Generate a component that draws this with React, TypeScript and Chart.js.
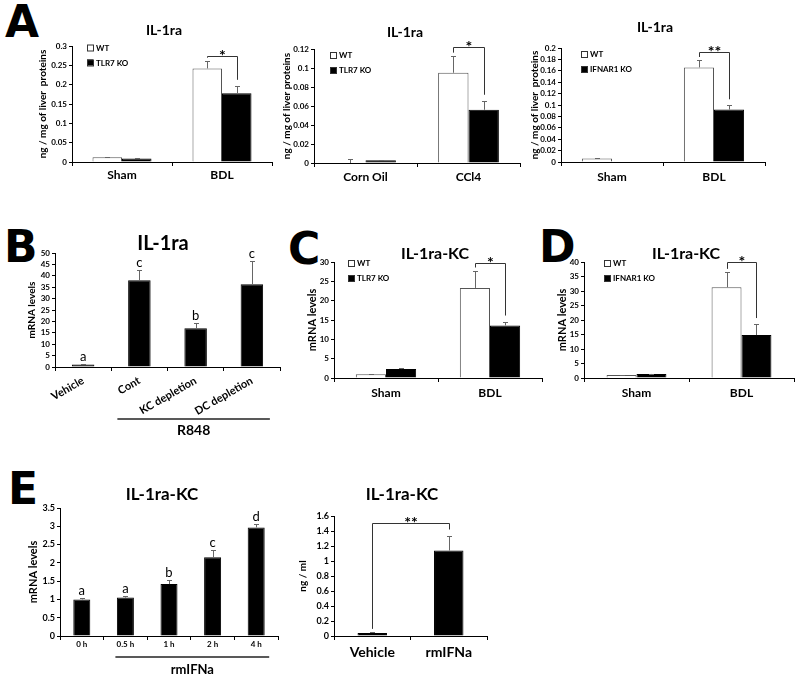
import React, { useEffect, useRef } from 'react';
import { Chart, registerables } from 'chart.js';

Chart.register(...registerables);

const FONT = 'Lato, "Open Sans", sans-serif';

// ---------------- Data ----------------
const A1_CATEGORIES = ['Sham', 'BDL'];
const A1_WT = [0.012, 0.242];
const A1_WT_ERR = [0.002, 0.02];
const A1_KO = [0.009, 0.178];
const A1_KO_ERR = [0.001, 0.019];

const A2_CATEGORIES = ['Corn Oil', 'CCl4'];
const A2_WT = [0, 0.095];
const A2_WT_ERR = [0.004, 0.018];
const A2_KO = [0.003, 0.056];
const A2_KO_ERR = [0.0005, 0.0095];

const A3_CATEGORIES = ['Sham', 'BDL'];
const A3_WT = [0.006, 0.166];
const A3_WT_ERR = [0.001, 0.013];
const A3_KO = [0, 0.092];
const A3_KO_ERR = [0, 0.0075];

const B_CATEGORIES = ['Vehicle', 'Cont', 'KC depletion', 'DC depletion'];
const B_VALUES = [1.1, 38.0, 17.0, 36.3];
const B_ERR = [0.3, 4.4, 2.2, 10.2];
const B_LETTERS = ['a', 'c', 'b', 'c'];

const C_CATEGORIES = ['Sham', 'BDL'];
const C_WT = [1.0, 23.3];
const C_WT_ERR = [0.15, 4.5];
const C_KO = [2.3, 13.6];
const C_KO_ERR = [0.2, 1.0];

const D_CATEGORIES = ['Sham', 'BDL'];
const D_WT = [1.0, 31.3];
const D_WT_ERR = [0.1, 5.3];
const D_KO = [1.4, 14.8];
const D_KO_ERR = [0.15, 3.8];

const E1_CATEGORIES = ['0 h', '0.5 h', '1 h', '2 h', '4 h'];
const E1_VALUES = [1.0, 1.05, 1.42, 2.15, 2.97];
const E1_ERR = [0.03, 0.04, 0.12, 0.2, 0.1];
const E1_LETTERS = ['a', 'a', 'b', 'c', 'd'];

const E2_CATEGORIES = ['Vehicle', 'rmIFNa'];
const E2_VALUES = [0.04, 1.14];
const E2_ERR = [0.015, 0.2];

// y-axis ranges
const A1_Y = { max: 0.3, step: 0.05 };
const A2_Y = { max: 0.12, step: 0.02 };
const A3_Y = { max: 0.2, step: 0.02 };
const B_Y = { max: 50, step: 5 };
const C_Y = { max: 30, step: 5 };
const D_Y = { max: 40, step: 5 };
const E1_Y = { max: 3.5, step: 0.5 };
const E2_Y = { max: 1.6, step: 0.2 };

// significance brackets (level in data units)
const A1_SIG = { level: 0.275, label: '*' };
const A2_SIG = { level: 0.1225, label: '*' };
const A3_SIG = { level: 0.1935, label: '**' };
const C_SIG = { level: 29.7, label: '*' };
const D_SIG = { level: 39.9, label: '*' };
const E2_SIG = { level: 1.51, label: '**' };

// ---------------- Panel specs (layout) ----------------
const WT_STYLE = { fill: '#ffffff', stroke: '#555555' };
const KO_STYLE = { fill: '#000000', stroke: '#000000' };

const PANELS: any[] = [
  {
    key: 'A1', box: [20, 8, 256, 184], area: [72, 46, 272, 162],
    categories: A1_CATEGORIES,
    series: [
      { label: 'WT', values: A1_WT, errors: A1_WT_ERR, ...WT_STYLE },
      { label: 'TLR7 KO', values: A1_KO, errors: A1_KO_ERR, ...KO_STYLE },
    ],
    y: A1_Y, tickSize: 8, yTitle: 'ng / mg of liver  proteins', yTitleX: 43, yTitleSize: 10,
    xSize: 12, xPad: 2, rotation: 0, catPct: 0.59,
    title: 'IL-1ra', titleX: 164, titleY: 30, titleSize: 14,
    legend: { x: 87, y: 47.5, gap: 15 },
    bracket: { a: [0, 1], b: [1, 1], ...A1_SIG, size: 16 },
  },
  {
    key: 'A2', box: [270, 8, 258, 184], area: [314, 49, 520, 163],
    categories: A2_CATEGORIES,
    series: [
      { label: 'WT', values: A2_WT, errors: A2_WT_ERR, ...WT_STYLE },
      { label: 'TLR7 KO', values: A2_KO, errors: A2_KO_ERR, ...KO_STYLE },
    ],
    y: A2_Y, tickSize: 8, yTitle: 'ng / mg of liver proteins', yTitleX: 287, yTitleSize: 10,
    xSize: 12, xPad: 3, rotation: 0, catPct: 0.59,
    title: 'IL-1ra', titleX: 405, titleY: 32, titleSize: 14,
    legend: { x: 330, y: 55, gap: 15 },
    bracket: { a: [0, 1], b: [1, 1], ...A2_SIG, size: 16 },
  },
  {
    key: 'A3', box: [525, 8, 275, 184], area: [561, 48, 765, 162],
    categories: A3_CATEGORIES,
    series: [
      { label: 'WT', values: A3_WT, errors: A3_WT_ERR, ...WT_STYLE },
      { label: 'IFNAR1 KO', values: A3_KO, errors: A3_KO_ERR, ...KO_STYLE },
    ],
    y: A3_Y, tickSize: 8, yTitle: 'ng / mg of liver  proteins', yTitleX: 535, yTitleSize: 10,
    xSize: 12, xPad: 4, rotation: 0, catPct: 0.59,
    title: 'IL-1ra', titleX: 655, titleY: 27, titleSize: 14,
    legend: { x: 581, y: 54, gap: 15 },
    bracket: { a: [0, 1], b: [1, 1], ...A3_SIG, size: 16 },
  },
  {
    key: 'B', box: [20, 225, 270, 215], area: [55, 253, 280, 367],
    categories: B_CATEGORIES,
    series: [{ label: 'IL-1ra', values: B_VALUES, errors: B_ERR, ...KO_STYLE }],
    y: B_Y, tickSize: 8, yTitle: 'mRNA levels', yTitleX: 32, yTitleSize: 10,
    xSize: 11, xPad: 3, rotation: 30, catPct: 0.4,
    title: 'IL-1ra', titleX: 163, titleY: 244, titleSize: 20,
    letters: B_LETTERS,
    group: { label: 'R848', from: 1, to: 3, dxFrom: -22, dxTo: 18, lineDy: 52, textDy: 63, size: 14 },
  },
  {
    key: 'C', box: [295, 225, 250, 190], area: [334, 262, 542, 378],
    categories: C_CATEGORIES,
    series: [
      { label: 'WT', values: C_WT, errors: C_WT_ERR, ...WT_STYLE },
      { label: 'TLR7 KO', values: C_KO, errors: C_KO_ERR, ...KO_STYLE },
    ],
    y: C_Y, tickSize: 8, yTitle: 'mRNA levels', yTitleX: 312, yTitleSize: 11,
    xSize: 12, xPad: 4, rotation: 0, catPct: 0.58,
    title: 'IL-1ra-KC', titleX: 435, titleY: 254, titleSize: 16,
    legend: { x: 348, y: 263, gap: 15 },
    bracket: { a: [0, 1], b: [1, 1], ...C_SIG, size: 16 },
  },
  {
    key: 'D', box: [545, 225, 255, 190], area: [584, 262, 794, 378],
    categories: D_CATEGORIES,
    series: [
      { label: 'WT', values: D_WT, errors: D_WT_ERR, ...WT_STYLE },
      { label: 'IFNAR1 KO', values: D_KO, errors: D_KO_ERR, ...KO_STYLE },
    ],
    y: D_Y, tickSize: 8, yTitle: 'mRNA levels', yTitleX: 562, yTitleSize: 11,
    xSize: 12, xPad: 4, rotation: 0, catPct: 0.57,
    title: 'IL-1ra-KC', titleX: 686, titleY: 254, titleSize: 16,
    legend: { x: 604, y: 263, gap: 15 },
    bracket: { a: [0, 1], b: [1, 1], ...D_SIG, size: 16 },
  },
  {
    key: 'E1', box: [15, 470, 270, 208], area: [60, 508, 278, 636],
    categories: E1_CATEGORIES,
    series: [{ label: 'IL-1ra-KC', values: E1_VALUES, errors: E1_ERR, ...KO_STYLE }],
    y: E1_Y, tickSize: 9, yTitle: 'mRNA levels', yTitleX: 33, yTitleSize: 11,
    xSize: 8, xPad: 0, rotation: 0, catPct: 0.39,
    title: 'IL-1ra-KC', titleX: 162, titleY: 495, titleSize: 17,
    letters: E1_LETTERS,
    group: { label: 'rmIFNa', from: 1, to: 4, dxFrom: -10, dxTo: 13, lineDy: 21, textDy: 34, size: 13 },
  },
  {
    key: 'E2', box: [285, 470, 215, 208], area: [334, 516, 487, 636],
    categories: E2_CATEGORIES,
    series: [{ label: 'IL-1ra-KC', values: E2_VALUES, errors: E2_ERR, ...KO_STYLE }],
    y: E2_Y, tickSize: 9, yTitle: 'ng / ml', yTitleX: 303, yTitleSize: 10,
    xSize: 14, xPad: 4, rotation: 0, catPct: 0.385,
    title: 'IL-1ra-KC', titleX: 402, titleY: 495, titleSize: 17,
    bracket: { a: [0, 0], b: [0, 1], ...E2_SIG, size: 16 },
  },
];

const PANEL_LETTERS = [
  { t: 'A', x: 5, y: 0 },
  { t: 'B', x: 4, y: 225 },
  { t: 'C', x: 288, y: 227 },
  { t: 'D', x: 539, y: 225 },
  { t: 'E', x: 8, y: 467 },
];

function fmt(v: any) {
  return String(Math.round(Number(v) * 10000) / 10000);
}

function Panel({ spec }: { spec: any }) {
  const ref = useRef<HTMLCanvasElement>(null);
  const [cl, ct, cw, ch] = spec.box;
  useEffect(() => {
    const canvas = ref.current!;
    const [L, T, R, B] = spec.area;
    const yTitleLH = spec.yTitleSize * 1.2;

    const errTop = (chart: any, di: number, i: number) => {
      const s = spec.series[di];
      return chart.scales.y.getPixelForValue(s.values[i] + (s.errors[i] || 0));
    };

    const decor = {
      id: 'decor' + spec.key,
      afterDatasetsDraw(chart: any) {
        const ctx = chart.ctx;
        const ys = chart.scales.y;
        ctx.save();
        ctx.strokeStyle = '#666';
        ctx.lineWidth = 1;
        spec.series.forEach((s: any, di: number) => {
          const meta = chart.getDatasetMeta(di);
          s.values.forEach((v: number, i: number) => {
            const e = s.errors[i];
            if (!e) return;
            const x = Math.round(meta.data[i].x) + 0.5;
            const y0 = ys.getPixelForValue(v);
            const y1 = Math.round(ys.getPixelForValue(v + e)) + 0.5;
            ctx.beginPath();
            ctx.moveTo(x, y0);
            ctx.lineTo(x, y1);
            ctx.moveTo(x - 2.5, y1);
            ctx.lineTo(x + 2.5, y1);
            ctx.stroke();
          });
        });
        ctx.restore();
      },
      afterDraw(chart: any) {
        const ctx = chart.ctx;
        const ys = chart.scales.y;
        const xs = chart.scales.x;
        ctx.save();
        // title
        ctx.fillStyle = '#000';
        ctx.textAlign = 'center';
        ctx.textBaseline = 'middle';
        ctx.font = `bold ${spec.titleSize}px ${FONT}`;
        ctx.fillText(spec.title, spec.titleX - cl, spec.titleY - ct);

        // legend
        if (spec.legend) {
          const lg = spec.legend;
          spec.series.forEach((s: any, di: number) => {
            const bx = lg.x - cl;
            const by = lg.y - ct + di * lg.gap;
            ctx.fillStyle = s.fill;
            ctx.fillRect(bx, by - 3, 6, 6);
            ctx.strokeStyle = '#333';
            ctx.lineWidth = 1;
            ctx.strokeRect(bx + 0.5, by - 3 + 0.5, 6, 6);
            ctx.fillStyle = '#000';
            ctx.textAlign = 'left';
            ctx.textBaseline = 'middle';
            ctx.font = `bold 8px ${FONT}`;
            ctx.fillText(s.label, bx + 9, by + 0.5);
          });
        }

        // letters above bars
        if (spec.letters) {
          const meta = chart.getDatasetMeta(0);
          ctx.fillStyle = '#000';
          ctx.textAlign = 'center';
          ctx.textBaseline = 'alphabetic';
          ctx.font = `13px ${FONT}`;
          spec.letters.forEach((t: string, i: number) => {
            ctx.fillText(t, meta.data[i].x, errTop(chart, 0, i) - 3);
          });
        }

        // significance bracket
        if (spec.bracket) {
          const b = spec.bracket;
          const xa = Math.round(chart.getDatasetMeta(b.a[0]).data[b.a[1]].x) + 0.5;
          const xb = Math.round(chart.getDatasetMeta(b.b[0]).data[b.b[1]].x) + 0.5;
          const ya = errTop(chart, b.a[0], b.a[1]) - 3;
          const yb = errTop(chart, b.b[0], b.b[1]) - 6;
          const yl = Math.round(ys.getPixelForValue(b.level)) + 0.5;
          ctx.strokeStyle = '#333';
          ctx.lineWidth = 1;
          ctx.beginPath();
          ctx.moveTo(xa, ya);
          ctx.lineTo(xa, yl);
          ctx.lineTo(xb, yl);
          ctx.lineTo(xb, yb);
          ctx.stroke();
          ctx.fillStyle = '#000';
          ctx.textAlign = 'center';
          ctx.textBaseline = 'alphabetic';
          ctx.font = `bold ${b.size}px ${FONT}`;
          ctx.fillText(b.label, (xa + xb) / 2, yl + 4);
        }

        // group underline label
        if (spec.group) {
          const g = spec.group;
          const x1 = xs.getPixelForValue(g.from) + g.dxFrom;
          const x2 = xs.getPixelForValue(g.to) + g.dxTo;
          const bottom = chart.chartArea.bottom;
          ctx.strokeStyle = '#222';
          ctx.lineWidth = 1.5;
          ctx.beginPath();
          ctx.moveTo(x1, bottom + g.lineDy);
          ctx.lineTo(x2, bottom + g.lineDy);
          ctx.stroke();
          ctx.fillStyle = '#000';
          ctx.textAlign = 'center';
          ctx.textBaseline = 'middle';
          ctx.font = `bold ${g.size}px ${FONT}`;
          ctx.fillText(g.label, (x1 + x2) / 2, bottom + g.textDy);
        }
        ctx.restore();
      },
    };

    const chart = new Chart(canvas, {
      type: 'bar',
      data: {
        labels: spec.categories,
        datasets: spec.series.map((s: any) => ({
          label: s.label,
          data: s.values,
          backgroundColor: s.fill,
          borderColor: s.stroke,
          borderWidth: 1,
          categoryPercentage: spec.catPct,
          barPercentage: 1,
        })),
      },
      options: {
        responsive: false,
        animation: false,
        devicePixelRatio: 1,
        layout: { padding: { left: 0, top: T - ct, right: cl + cw - R, bottom: 0 } },
        plugins: {
          legend: { display: false },
          title: { display: false },
          tooltip: { enabled: false },
        },
        scales: {
          x: {
            type: 'category',
            offset: true,
            grid: { offset: true, drawOnChartArea: false, drawTicks: true, tickLength: 4, color: '#000', lineWidth: 1 },
            border: { display: true, color: '#000', width: 1 },
            ticks: {
              autoSkip: false,
              maxRotation: spec.rotation,
              minRotation: spec.rotation,
              padding: spec.xPad,
              color: '#000',
              font: { family: FONT, size: spec.xSize, weight: 'bold' },
            },
            afterFit: (s: any) => {
              s.height = ct + ch - B;
              s.paddingLeft = 0; s.paddingRight = 0; s.paddingTop = 0; s.paddingBottom = 0;
            },
          },
          y: {
            min: 0,
            max: spec.y.max,
            grid: { drawOnChartArea: false, drawTicks: true, tickLength: 3, color: '#000', lineWidth: 1 },
            border: { display: true, color: '#000', width: 1 },
            ticks: {
              stepSize: spec.y.step,
              autoSkip: false,
              padding: 2,
              color: '#000',
              font: { family: FONT, size: spec.tickSize, weight: 'bold' },
              callback: (v: any) => fmt(v),
            },
            title: {
              display: true,
              text: spec.yTitle,
              color: '#000',
              font: { family: FONT, size: spec.yTitleSize, weight: 'bold' },
              padding: { top: spec.yTitleX - cl - yTitleLH / 2, bottom: 0 },
            },
            afterFit: (s: any) => {
              s.width = L - cl;
              s.paddingLeft = 0; s.paddingRight = 0; s.paddingTop = 0; s.paddingBottom = 0;
            },
          },
        },
      } as any,
      plugins: [decor],
    });
    return () => chart.destroy();
  }, []);
  return (
    <canvas
      ref={ref}
      width={cw}
      height={ch}
      style={{ position: 'absolute', left: cl, top: ct, width: cw, height: ch }}
    />
  );
}

export default function App() {
  return (
    <div style={{ position: 'absolute', left: 0, top: 0, width: 800, height: 678, background: '#fff', overflow: 'hidden' }}>
      {PANEL_LETTERS.map((l) => (
        <div
          key={l.t}
          style={{
            position: 'absolute', left: l.x, top: l.y,
            fontFamily: '"DejaVu Sans", sans-serif', fontWeight: 'bold', fontSize: 44, lineHeight: '44px', color: '#000',
          }}
        >
          {l.t}
        </div>
      ))}
      {PANELS.map((p) => (
        <Panel key={p.key} spec={p} />
      ))}
    </div>
  );
}
